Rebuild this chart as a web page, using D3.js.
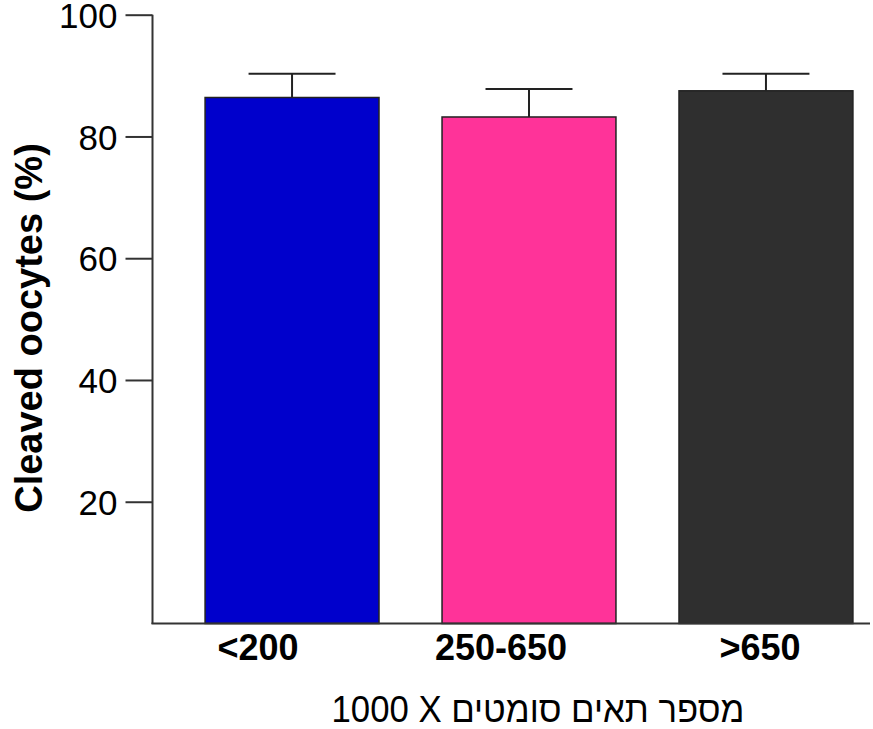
<!DOCTYPE html>
<html><head><meta charset="utf-8">
<script src="https://cdn.jsdelivr.net/npm/d3@7"></script>
<style>body{margin:0;background:#fff}svg{display:block}text{font-family:"Liberation Sans",Arial,sans-serif}</style>
</head><body>
<script>
const categories = ["<200", "250-650", ">650"];
const values = [86.4, 83.2, 87.5];
const errors = [3.9, 4.6, 2.8];
const colors = ["#0000cc", "#ff3399", "#2f2f2f"];
const yTicks = [20, 40, 60, 80, 100];
const yLabel = "Cleaved oocytes (%)";
const xLabel = "1000 X מספר תאים סומטים";

const W = 873, H = 729;
const svg = d3.select("body").append("svg").attr("width", W).attr("height", H);

const y = d3.scaleLinear().domain([0, 100]).range([623.5, 14.7]);
const x = d3.scaleBand().domain(categories).range([152, 906]).paddingInner(0.266).paddingOuter(0.224);

// bars
svg.selectAll("rect.bar").data(categories).enter().append("rect")
  .attr("x", d => x(d)).attr("width", x.bandwidth())
  .attr("y", (d, i) => y(values[i])).attr("height", (d, i) => y(0) - y(values[i]))
  .attr("fill", (d, i) => colors[i]).attr("stroke", "#222").attr("stroke-width", 1.5);

// error bars
const eb = svg.selectAll("g.eb").data(categories).enter().append("g").attr("stroke", "#222").attr("stroke-width", 2);
eb.append("line")
  .attr("x1", d => x(d) + x.bandwidth() / 2).attr("x2", d => x(d) + x.bandwidth() / 2)
  .attr("y1", (d, i) => y(values[i])).attr("y2", (d, i) => y(values[i] + errors[i]));
eb.append("line")
  .attr("x1", d => x(d) + x.bandwidth() / 4).attr("x2", d => x(d) + x.bandwidth() * 3 / 4)
  .attr("y1", (d, i) => y(values[i] + errors[i])).attr("y2", (d, i) => y(values[i] + errors[i]));

// y axis
const yAxis = d3.axisLeft(y).tickValues(yTicks).tickSize(27).tickPadding(8);
const gy = svg.append("g").attr("transform", "translate(152.5,0)").call(yAxis);
gy.select(".domain").remove();
gy.selectAll(".tick line").attr("stroke", "#333").attr("stroke-width", 2);
gy.selectAll(".tick text").attr("font-size", 35).attr("fill", "#000").attr("dy", "0.36em")
  .style("font-family", '"Liberation Sans",Arial,sans-serif');
svg.append("line").attr("x1", 152.5).attr("x2", 152.5).attr("y1", y(100)).attr("y2", y(0) + 0.5)
  .attr("stroke", "#333").attr("stroke-width", 2);
// x axis line
svg.append("line").attr("x1", 151.5).attr("x2", 870).attr("y1", y(0)).attr("y2", y(0))
  .attr("stroke", "#333").attr("stroke-width", 2);

// category labels
const labelDx = [-34, -28, -6];
svg.selectAll("text.cat").data(categories).enter().append("text")
  .attr("x", (d, i) => x(d) + x.bandwidth() / 2 + labelDx[i]).attr("y", 660)
  .attr("text-anchor", "middle").attr("font-size", 36).attr("font-weight", "bold")
  .text(d => d);

// axis titles
svg.append("text").attr("transform", "translate(41.5,328) rotate(-90)")
  .attr("text-anchor", "middle").attr("font-size", 38).attr("font-weight", "bold").text(yLabel);
svg.append("text").attr("x", 538).attr("y", 722).attr("text-anchor", "middle")
  .attr("font-size", 37).attr("textLength", 413).attr("lengthAdjust", "spacingAndGlyphs").text(xLabel);
</script>
</body></html>
